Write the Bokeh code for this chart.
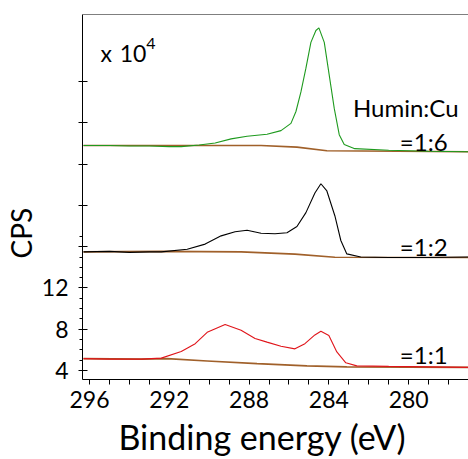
from bokeh.plotting import figure
from bokeh.models import Label, Span, FixedTicker, Range1d, Title
from bokeh.embed import file_html
from bokeh.resources import INLINE

# ---- data (binding energy in eV, counts in units of 1e4 CPS, offset stacked) ----
energy_16 = [296.3, 295.0, 294.0, 293.0, 292.0, 291.4, 290.5, 289.7, 288.9, 288.1, 287.1,
             286.4, 285.9, 285.65, 285.4, 285.15, 284.9, 284.65, 284.5, 284.23, 283.98,
             283.73, 283.48, 283.23, 282.7, 281.0, 279.0, 277.0]
cps_16 = [25.8, 25.8, 25.75, 25.75, 25.7, 25.7, 25.85, 26.05, 26.45, 26.7, 26.9,
          27.25, 27.95, 29.1, 31.0, 33.3, 35.8, 36.95, 37.2, 35.8, 32.6,
          29.4, 26.85, 25.9, 25.5, 25.35, 25.25, 25.2]
bg_energy_16 = [296.3, 287.4, 285.6, 284.1, 277.0]
bg_16 = [25.8, 25.8, 25.65, 25.3, 25.2]

energy_12 = [296.3, 295.0, 294.0, 293.0, 292.4, 291.1, 290.2, 289.4, 288.7, 288.1, 287.4,
             286.7, 286.1, 285.6, 285.15, 284.7, 284.4, 284.1, 283.7, 283.4, 283.1,
             282.4, 281.0, 279.0, 277.0]
cps_12 = [15.5, 15.55, 15.45, 15.5, 15.5, 15.75, 16.25, 17.05, 17.45, 17.6, 17.3,
          17.25, 17.35, 17.95, 19.3, 21.2, 22.1, 21.4, 19.0, 16.6, 15.3,
          15.0, 14.95, 14.95, 15.0]
bg_energy_12 = [296.3, 292.4, 288.4, 285.7, 283.7, 277.0]
bg_12 = [15.5, 15.55, 15.5, 15.28, 14.97, 14.95]

energy_11 = [296.3, 295.0, 294.0, 293.4, 292.4, 291.4, 290.7, 290.1, 289.2, 288.4, 287.7,
             287.1, 286.4, 285.7, 285.2, 284.7, 284.4, 284.0, 283.6, 283.15, 282.6,
             281.0, 279.0, 277.0]
cps_11 = [5.15, 5.1, 5.1, 5.1, 5.2, 5.85, 6.6, 7.7, 8.45, 7.9, 7.1,
          6.75, 6.35, 6.1, 6.6, 7.45, 7.8, 7.4, 5.8, 4.75, 4.45,
          4.4, 4.35, 4.3]
bg_energy_11 = [296.3, 293.4, 292.1, 290.1, 287.6, 285.1, 283.1, 277.0]
bg_11 = [5.15, 5.1, 5.15, 4.93, 4.67, 4.45, 4.35, 4.3]

x_major = [296, 292, 288, 284, 280]
y_major = [4, 8, 12, 16, 20, 24, 28, 32]
y_labelled = [4, 8, 12]
y_minor = [3, 5, 6, 7, 9, 10, 11, 13, 14, 15, 17]

FONT = "Lato"
BG_COLOR = "#a0602a"

p = figure(width=468, height=459, output_backend="svg", toolbar_location=None,
           x_range=Range1d(296.35, 277.0), y_range=Range1d(3.13, 38.5),
           min_border_left=81, min_border_right=0, min_border_top=14, min_border_bottom=78)
p.grid.visible = False
p.outline_line_color = None
p.background_fill_color = "white"
p.border_fill_color = "white"

for ex, ey in [(bg_energy_16, bg_16), (bg_energy_12, bg_12), (bg_energy_11, bg_11)]:
    p.line(ex, ey, line_color=BG_COLOR, line_width=1.6)

p.line(energy_16, cps_16, line_color="#1e9a1e", line_width=1.1)
p.line(energy_12, cps_12, line_color="black", line_width=1.1)
p.line(energy_11, cps_11, line_color="#e0141a", line_width=1.1)

# top border
p.add_layout(Span(location=38.5, dimension="width", line_color="black", line_width=1))

# x axis
xa = p.xaxis[0]
xa.ticker = FixedTicker(ticks=x_major, minor_ticks=[v for v in range(277, 297) if v not in x_major])
xa.major_tick_in = 0
xa.major_tick_out = 5
xa.minor_tick_in = 0
xa.minor_tick_out = 5
xa.axis_line_color = "black"
xa.major_tick_line_color = "black"
xa.minor_tick_line_color = "black"
xa.major_label_text_font = FONT
xa.major_label_text_font_size = "23px"
xa.major_label_text_color = "black"
xa.major_label_standoff = 6

# y axis
ya = p.yaxis[0]
ya.ticker = FixedTicker(ticks=y_major, minor_ticks=y_minor)
ya.major_label_overrides = {v: "" for v in y_major if v not in y_labelled}
ya.major_tick_in = 5
ya.major_tick_out = 4
ya.minor_tick_in = 0
ya.minor_tick_out = 3
ya.axis_line_color = "black"
ya.major_tick_line_color = "black"
ya.minor_tick_line_color = "black"
ya.major_label_text_font = FONT
ya.major_label_text_font_size = "23px"
ya.major_label_text_color = "black"
ya.major_label_standoff = 10

# axis titles (as offset titles so they sit where the reference has them)
p.add_layout(Title(text="Binding energy (eV)", align="left", offset=36,
                   text_font=FONT, text_font_size="34px", text_font_style="normal",
                   text_color="black", standoff=6), "below")
p.add_layout(Title(text="CPS", align="left", offset=121,
                   text_font=FONT, text_font_size="28px", text_font_style="normal",
                   text_color="black", standoff=2), "left")

# annotations
p.add_layout(Label(x=295.45, y=34.75, text="x", text_font=FONT, text_font_size="23px",
                   text_baseline="alphabetic", text_color="black"))
p.add_layout(Label(x=293.15, y=34.75, text="10", text_font=FONT, text_font_size="23px",
                   text_align="right", text_baseline="alphabetic", text_color="black"))
p.add_layout(Label(x=293.15, y=35.7, text="4", text_font=FONT, text_font_size="16px",
                   text_baseline="alphabetic", text_color="black"))
p.add_layout(Label(x=277.5, y=29.45, text="Humin:Cu", text_font=FONT, text_font_size="24px",
                   text_align="right", text_baseline="alphabetic", text_color="black"))
for txt, yy in [("=1:6", 26.17), ("=1:2", 16.05), ("=1:1", 5.54)]:
    p.add_layout(Label(x=278.05, y=yy, text=txt, text_font=FONT, text_font_size="24px",
                       text_align="right", text_baseline="alphabetic", text_color="black"))

open("out.html", "w").write(file_html(p, INLINE))
